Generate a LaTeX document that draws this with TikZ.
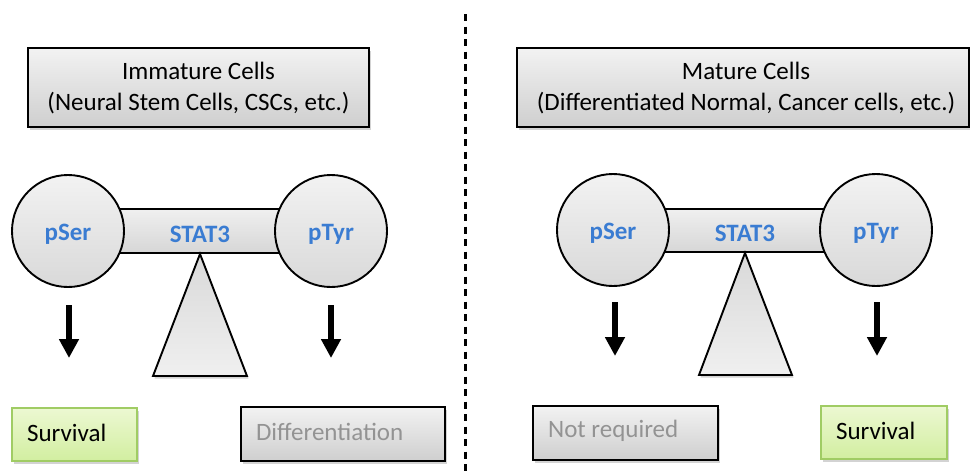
\documentclass[tikz,border=0pt]{standalone}
\usepackage{fontspec}
\setmainfont{Carlito}
\usetikzlibrary{shadows,arrows.meta}
\definecolor{lblue}{RGB}{58,124,210}
\definecolor{gborder}{RGB}{160,204,100}
\definecolor{gtop}{RGB}{236,248,210}
\definecolor{gbot}{RGB}{210,238,160}
\tikzset{
  shad/.style={drop shadow={opacity=0.35,shadow xshift=1.5pt,shadow yshift=-2.5pt}},
  graybox/.style={rectangle,draw=black,line width=2.2pt,top color=gray!10,bottom color=gray!38,shad,inner sep=0pt},
  greenbox/.style={rectangle,draw=gborder,line width=2.2pt,top color=gtop,bottom color=gbot,shad,inner sep=0pt},
  ball/.style={circle,draw=black,line width=1.9pt,top color=gray!10,bottom color=gray!30,minimum size=112pt,inner sep=0pt},
  barbox/.style={rectangle,draw=black,line width=1.9pt,top color=gray!12,bottom color=gray!32,inner sep=0pt},
  tri/.style={draw=black,line width=1.9pt,top color=gray!30,bottom color=gray!12,shad},
  lbl/.style={text=lblue,font=\fontsize{25}{27}\selectfont\bfseries,yshift=-3pt},
  boxtxt/.style={font=\fontsize{25}{31}\selectfont,align=center},
  restxt/.style={font=\fontsize{25}{28}\selectfont,anchor=west,inner sep=0pt},
  bigarrow/.style={line width=6pt,-{Triangle[width=19pt,length=19pt]}},
}
\begin{document}
\begin{tikzpicture}[x=1pt,y=-1pt]
\useasboundingbox (0,0) rectangle (970,475);
% divider
\draw[line width=3pt,dash pattern=on 7pt off 5.5pt] (465,14) -- (465,475);

% ---------- left half ----------
\node[graybox,minimum width=341pt,minimum height=79pt] (tl) at (198.5,87.5) {};
\node[boxtxt] (tltxt) at (198.5,88) {Immature Cells\\(Neural Stem Cells, CSCs, etc.)};

\node[barbox,minimum width=170pt,minimum height=44pt] (barL) at (200,231) {};
\node[ball] (serL) at (68,231) {};
\node[ball] (tyrL) at (331,231) {};
\node[lbl] at (serL) {pSer};
\node[lbl] at (tyrL) {pTyr};
\node[lbl] at (barL) {STAT3};
\coordinate (triLa) at (153,376);
\coordinate (triLb) at (247,376);
\path[tri] (barL.south) -- (triLa) -- (triLb) -- cycle;

\coordinate (a1s) at (69,305); \coordinate (a1e) at (69,358);
\coordinate (a2s) at (331,305); \coordinate (a2e) at (331,358);
\draw[bigarrow] (a1s) -- (a1e);
\draw[bigarrow] (a2s) -- (a2e);

\node[greenbox,minimum width=125pt,minimum height=53pt] (survL) at (74.5,434.5) {};
\node[restxt] at ([xshift=16pt,yshift=2pt]survL.west) {Survival};
\node[graybox,minimum width=204pt,minimum height=54pt] (diff) at (343,434) {};
\node[restxt,text=gray!85] at ([xshift=16pt,yshift=2pt]diff.west) {Differentiation};

% ---------- right half ----------
\node[graybox,minimum width=452pt,minimum height=79pt] (tr) at (743,87.5) {};
\node[boxtxt] (trtxt) at (746,88) {Mature Cells\\(Differentiated Normal, Cancer cells, etc.)};

\node[barbox,minimum width=170pt,minimum height=43pt] (barR) at (745,230.5) {};
\node[ball] (serR) at (613,230) {};
\node[ball] (tyrR) at (876,230) {};
\node[lbl] at (serR) {pSer};
\node[lbl] at (tyrR) {pTyr};
\node[lbl] at (barR) {STAT3};
\coordinate (triRa) at (699,375);
\coordinate (triRb) at (792,375);
\path[tri] (barR.south) -- (triRa) -- (triRb) -- cycle;

\coordinate (a3s) at (615,302); \coordinate (a3e) at (615,356);
\coordinate (a4s) at (877,302); \coordinate (a4e) at (877,356);
\draw[bigarrow] (a3s) -- (a3e);
\draw[bigarrow] (a4s) -- (a4e);

\node[graybox,minimum width=185pt,minimum height=54pt] (notreq) at (625.5,433) {};
\node[restxt,text=gray!85] at ([xshift=16pt,yshift=2pt]notreq.west) {Not required};
\node[greenbox,minimum width=126pt,minimum height=53pt] (survR) at (884,432.5) {};
\node[restxt] at ([xshift=16pt,yshift=2pt]survR.west) {Survival};
\end{tikzpicture}
\end{document}
